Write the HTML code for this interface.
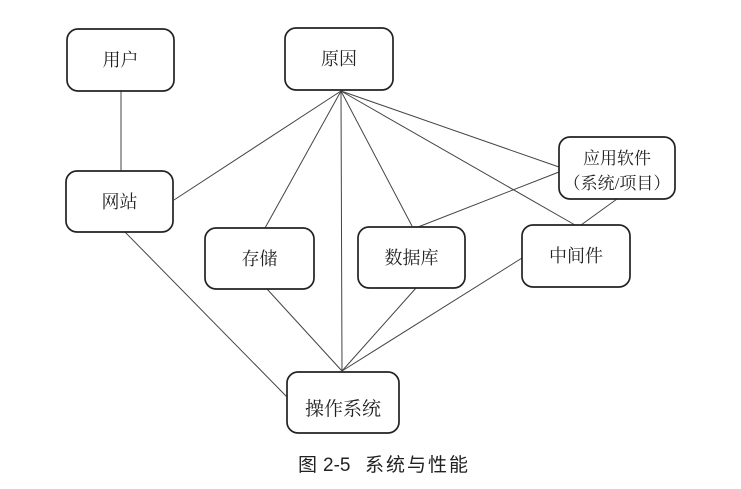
<!DOCTYPE html>
<html>
<head>
<meta charset="utf-8">
<style>
html,body{margin:0;padding:0;background:#fff;}
body{width:741px;height:489px;overflow:hidden;}
svg{display:block;}
.b{fill:#fff;stroke:#222;stroke-width:1.7;}
.l{stroke:#444;stroke-width:1;fill:none;}
.t{font-family:"Liberation Serif","Noto Serif CJK SC",serif;font-size:18px;fill:#222;text-anchor:middle;}
.c{font-family:"Liberation Sans","Noto Sans CJK SC",sans-serif;font-size:19px;fill:#222;}
</style>
</head>
<body>
<svg width="741" height="489" viewBox="0 0 741 489" xmlns="http://www.w3.org/2000/svg">
  <!-- connectors -->
  <line class="l" x1="121" y1="91" x2="121" y2="171"/>
  <line class="l" x1="341" y1="91" x2="174" y2="200"/>
  <line class="l" x1="341" y1="91" x2="265" y2="228"/>
  <line class="l" x1="341" y1="91" x2="342" y2="371"/>
  <line class="l" x1="341" y1="91" x2="412" y2="226"/>
  <line class="l" x1="341" y1="91" x2="559" y2="167"/>
  <line class="l" x1="341" y1="91" x2="575" y2="225"/>
  <line class="l" x1="418" y1="227" x2="559" y2="172"/>
  <line class="l" x1="617" y1="199" x2="581" y2="225"/>
  <line class="l" x1="267" y1="289" x2="342" y2="371"/>
  <line class="l" x1="416" y1="288" x2="342" y2="371"/>
  <line class="l" x1="522" y1="258" x2="342" y2="371"/>
  <line class="l" x1="125" y1="232" x2="287" y2="397"/>

  <!-- boxes -->
  <rect class="b" x="67" y="29" width="107" height="62" rx="11"/>
  <text class="t" x="120.5" y="66">用户</text>

  <rect class="b" x="285" y="28" width="108" height="62" rx="11"/>
  <text class="t" x="339" y="65">原因</text>

  <rect class="b" x="66" y="171" width="107" height="61" rx="11"/>
  <text class="t" x="119.5" y="208">网站</text>

  <rect class="b" x="559" y="137" width="116" height="62" rx="11"/>
  <text class="t" x="617" y="164" style="font-size:17px">应用软件</text>
  <text class="t" x="617" y="189" style="font-size:17px">（系统/项目）</text>

  <rect class="b" x="205" y="228" width="109" height="61" rx="11"/>
  <text class="t" x="259.5" y="265">存储</text>

  <rect class="b" x="358" y="227" width="107" height="61" rx="11"/>
  <text class="t" x="411.5" y="264">数据库</text>

  <rect class="b" x="522" y="225" width="108" height="62" rx="11"/>
  <text class="t" x="576" y="262">中间件</text>

  <rect class="b" x="287" y="372" width="112" height="61" rx="11"/>
  <text class="t" x="343" y="415" style="font-size:19px">操作系统</text>

  <!-- caption -->
  <text class="c" x="298" y="471">图</text>
  <text class="c" x="323" y="471">2-5</text>
  <text class="c" x="365" y="471" style="letter-spacing:2px">系统与性能</text>
</svg>
</body>
</html>
